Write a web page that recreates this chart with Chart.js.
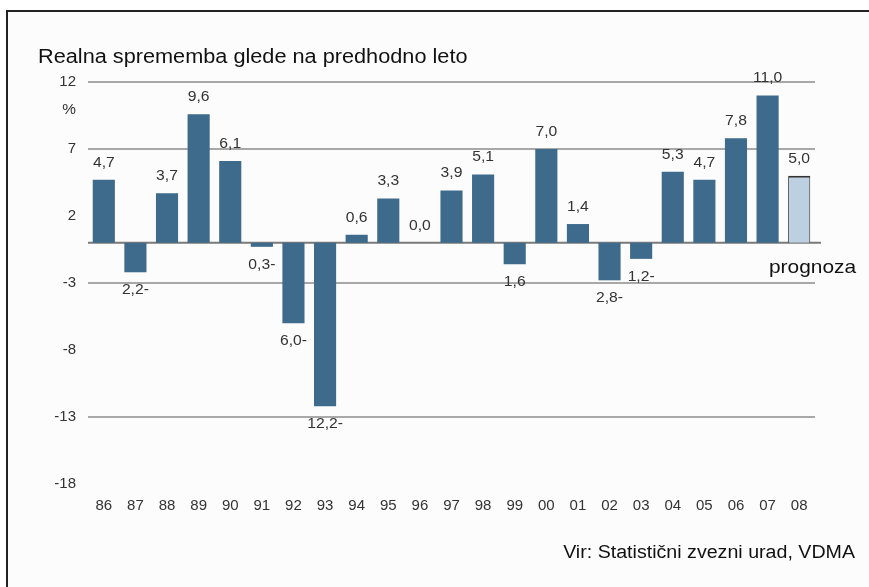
<!DOCTYPE html>
<html>
<head>
<meta charset="utf-8">
<script src="https://cdn.jsdelivr.net/npm/chart.js@4/dist/chart.umd.min.js"></script>
<style>
  html, body { margin: 0; padding: 0; background: #fff; }
  #wrap { position: relative; width: 869px; height: 587px; }
  #frame { position: absolute; left: 6px; top: 10px; right: 0; bottom: 0; border-left: 2px solid #222; border-top: 2px solid #222; background: #fcfcfc; }
  canvas { position: absolute; left: 0; top: 0; }
</style>
</head>
<body>
<div id="wrap">
  <div id="frame"></div>
  <canvas id="chart" width="869" height="587"></canvas>
</div>
<script>
const years = ['86', '87', '88', '89', '90', '91', '92', '93', '94', '95', '96', '97',
  '98', '99', '00', '01', '02', '03', '04', '05', '06', '07', '08'];
const changes = [4.7, -2.2, 3.7, 9.6, 6.1, -0.3, -6.0, -12.2, 0.6, 3.3, 0.0, 3.9,
  5.1, -1.6, 7.0, 1.4, -2.8, -1.2, 5.3, 4.7, 7.8, 11.0, 5.0];
const valueLabels = ['4,7', '2,2-', '3,7', '9,6', '6,1', '0,3-', '6,0-', '12,2-', '0,6', '3,3', '0,0', '3,9',
  '5,1', '1,6', '7,0', '1,4', '2,8-', '1,2-', '5,3', '4,7', '7,8', '11,0', '5,0'];
const gridValues = [12, 7, -3, -13];
const forecastIndex = 22;

const barColor = '#3e6a8b';
const forecastColor = '#bdd0e2';
const font = '"Liberation Sans", Arial, sans-serif';

// text in the original is a bit wider than Arial, so stretch it sideways
function wideText(ctx, text, x, y, align, sx) {
  ctx.save();
  ctx.translate(x, y);
  ctx.scale(sx, 1);
  ctx.textAlign = align;
  ctx.fillText(text, 0, 0);
  ctx.restore();
}

const extras = {
  id: 'extras',
  beforeDatasetsDraw(chart) {
    const { ctx, chartArea, scales } = chart;
    const y0 = scales.y.getPixelForValue(0);
    ctx.save();
    ctx.strokeStyle = '#7a7a7a';
    ctx.lineWidth = 2;
    ctx.beginPath();
    ctx.moveTo(chartArea.left, y0);
    ctx.lineTo(chartArea.right + 6, y0);
    ctx.stroke();
    ctx.restore();
  },
  afterDatasetsDraw(chart) {
    const { ctx } = chart;
    const meta = chart.getDatasetMeta(0);
    ctx.save();
    ctx.font = '14px ' + font;
    ctx.fillStyle = '#333';
    ctx.textBaseline = 'middle';
    meta.data.forEach((bar, i) => {
      const y = changes[i] < 0 ? bar.y + 18 : bar.y - 17;
      wideText(ctx, valueLabels[i], bar.x, y, 'center', 1.12);
    });

    // text around the plot
    ctx.fillStyle = '#111';
    ctx.font = '20px ' + font;
    wideText(ctx, 'Realna sprememba glede na predhodno leto', 38, 57, 'left', 1.085);
    ctx.font = '14px ' + font;
    ctx.fillStyle = '#333';
    wideText(ctx, '%', 76, 110, 'right', 1.1);
    ctx.fillStyle = '#111';
    ctx.font = '19px ' + font;
    wideText(ctx, 'prognoza', 769, 268, 'left', 1.1);
    ctx.font = '18px ' + font;
    wideText(ctx, 'Vir: Statistični zvezni urad, VDMA', 855, 553, 'right', 1.09);
    ctx.restore();
  }
};

new Chart(document.getElementById('chart'), {
  type: 'bar',
  data: {
    labels: years,
    datasets: [
      {
        data: changes,
        backgroundColor: changes.map((v, i) => i === forecastIndex ? forecastColor : barColor),
        borderColor: changes.map((v, i) => i === forecastIndex ? '#333' : barColor),
        borderWidth: changes.map((v, i) => i === forecastIndex ? { top: 2, left: 1, right: 1, bottom: 0 } : 0),
        borderSkipped: false,
        barPercentage: 0.7,
        categoryPercentage: 1.0
      }
    ]
  },
  options: {
    responsive: false,
    animation: false,
    events: [],
    layout: {
      padding: { left: 8, right: 54, top: 82, bottom: 0 }
    },
    plugins: {
      legend: { display: false },
      title: { display: false },
      tooltip: { enabled: false }
    },
    scales: {
      x: {
        grid: { display: false, drawTicks: false },
        border: { display: false },
        ticks: { color: '#333', font: { family: font, size: 15 }, padding: 13, maxRotation: 0, autoSkip: false },
        afterFit: (scale) => { scale.height = 103; }
      },
      y: {
        min: -18,
        max: 12,
        ticks: { stepSize: 5, color: '#333', font: { family: font, size: 15 }, padding: 12 },
        grid: {
          drawTicks: false,
          lineWidth: 2,
          color: (c) => gridValues.includes(c.tick && c.tick.value) ? '#a8a8a8' : 'rgba(0,0,0,0)'
        },
        border: { display: false },
        afterFit: (scale) => { scale.width = 80; }
      }
    }
  },
  plugins: [extras]
});
</script>
</body>
</html>
